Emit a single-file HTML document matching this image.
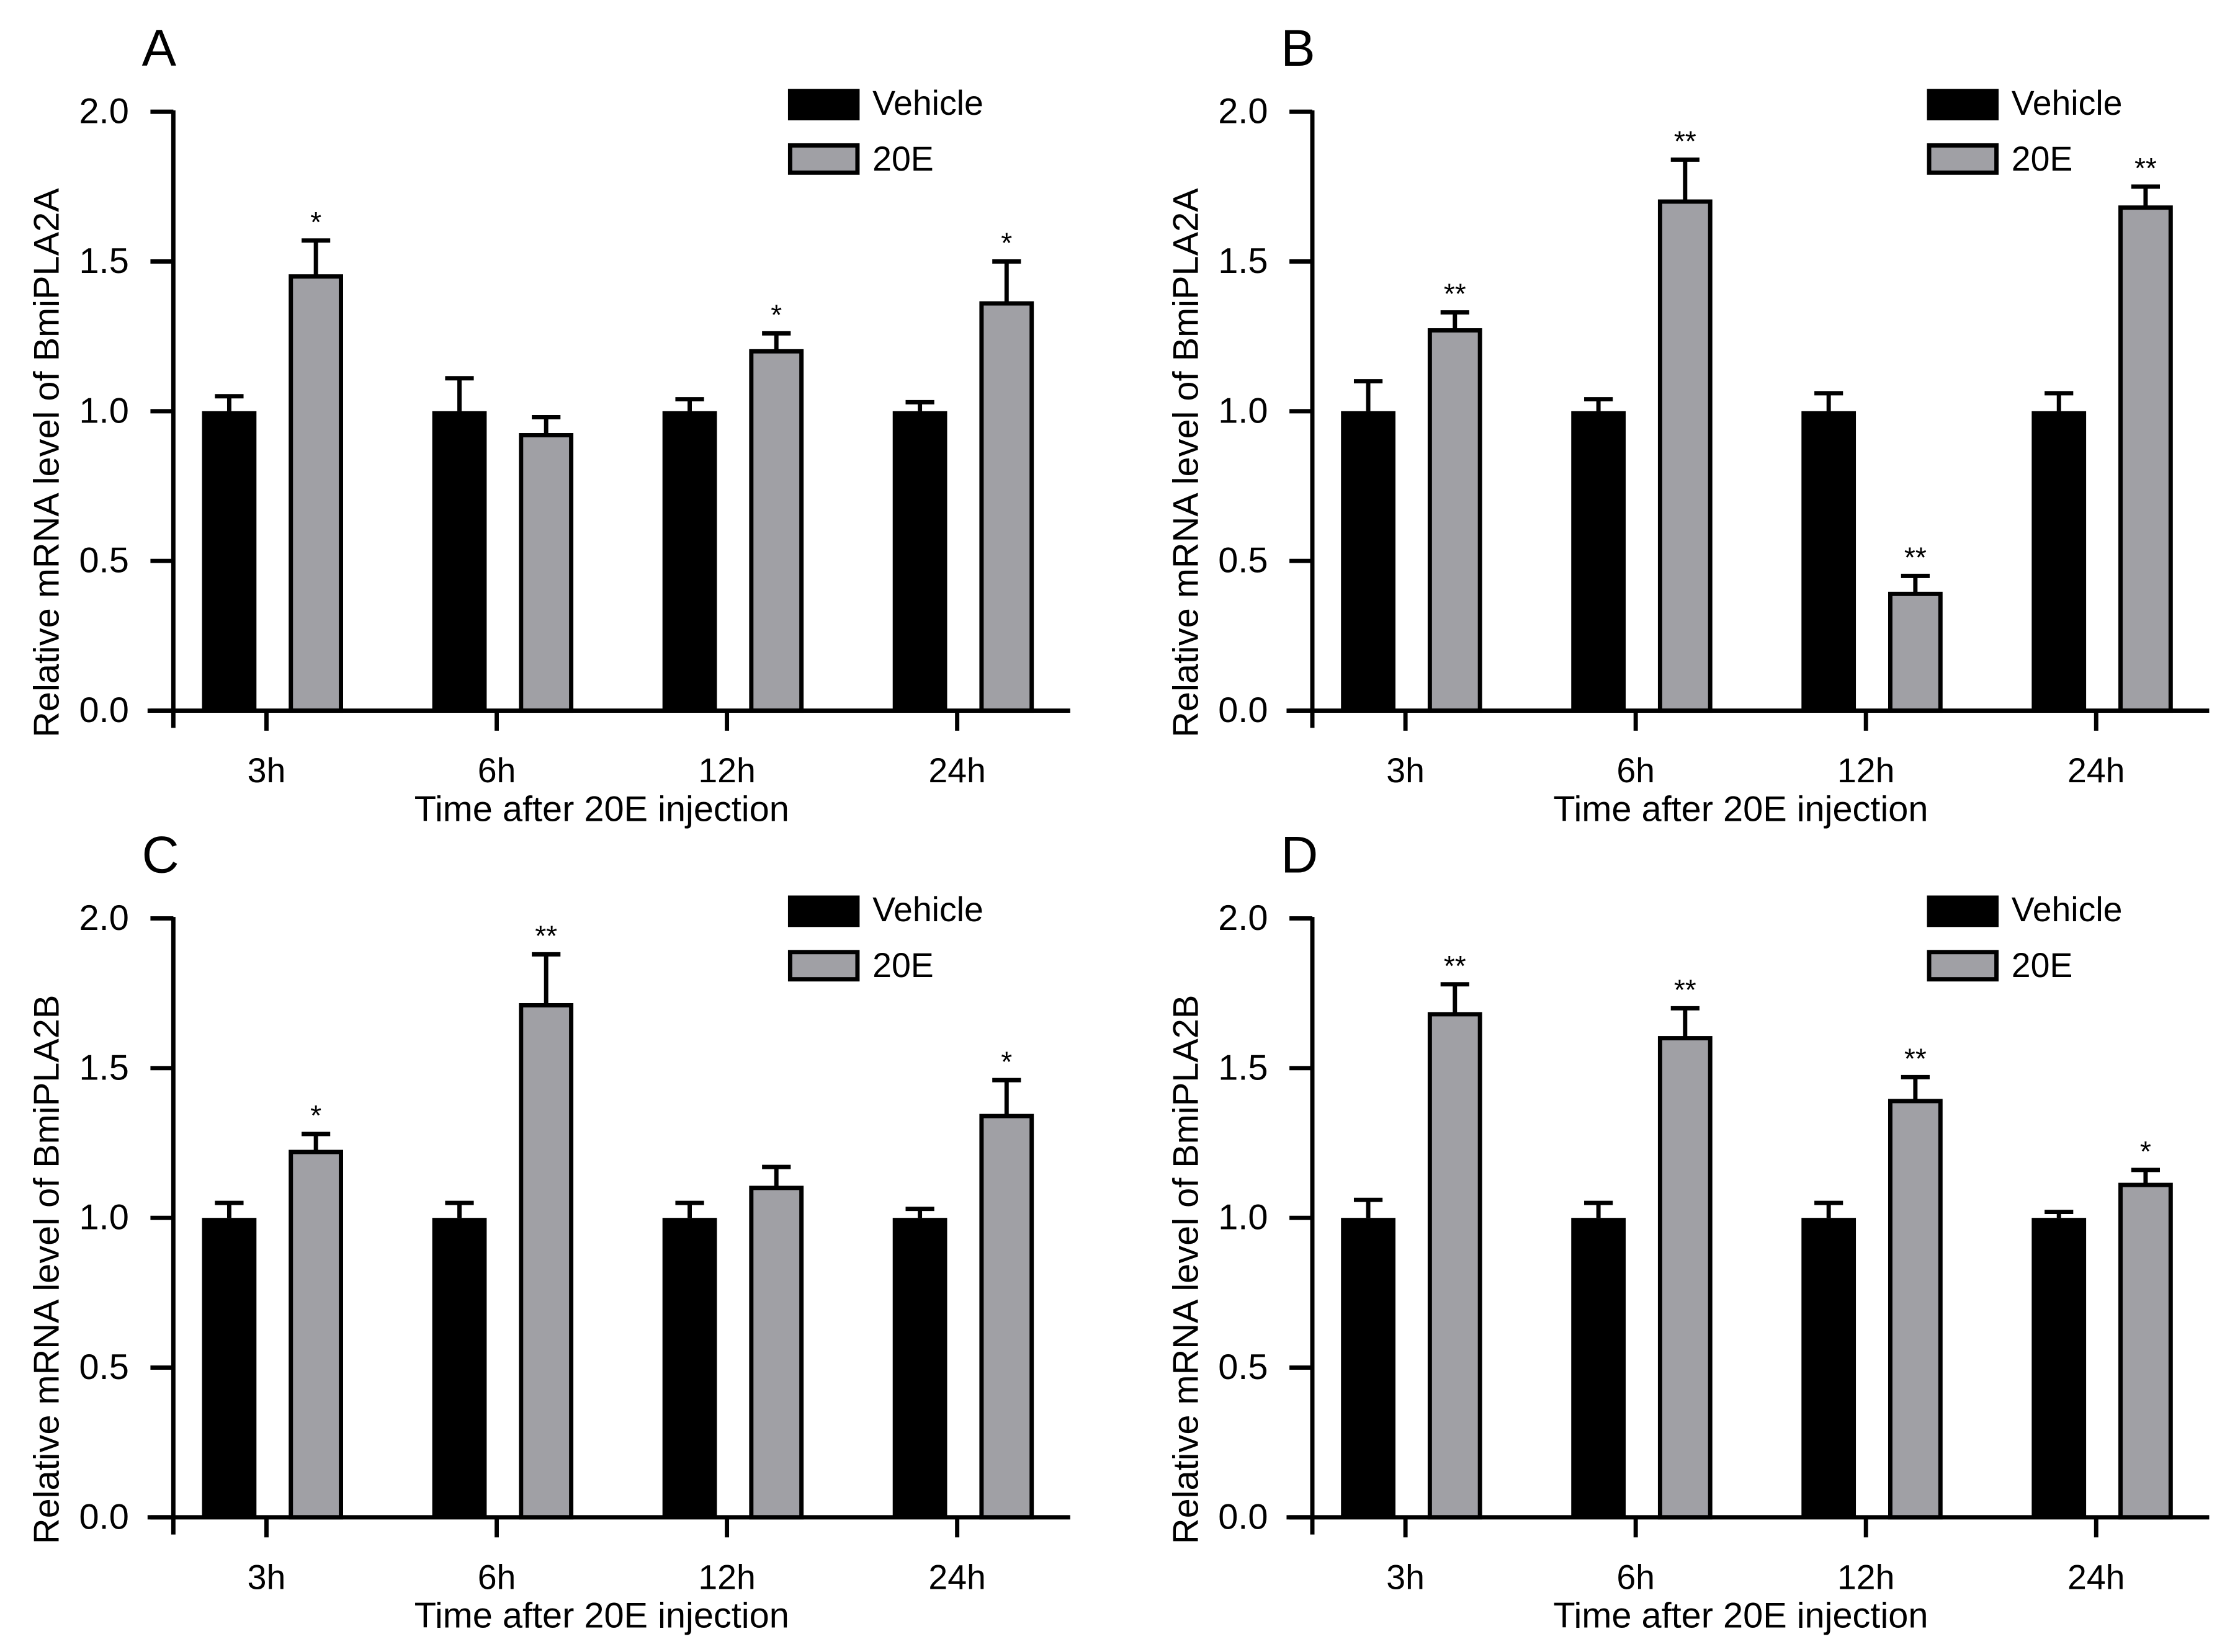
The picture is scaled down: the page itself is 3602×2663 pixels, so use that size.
<!DOCTYPE html>
<html><head><meta charset="utf-8"><style>
html,body{margin:0;padding:0;background:#fff}
svg{display:block}
text{font-family:"Liberation Sans",Arial,sans-serif;fill:#000}
</style></head><body>
<svg id="fig" width="3602" height="2663" viewBox="0 0 1560 1153" preserveAspectRatio="none" xmlns="http://www.w3.org/2000/svg"></svg>
<script>
const categories = ["3h","6h","12h","24h"];
const yTicks = [0,0.5,1,1.5,2];
const yTickLabels = ["0.0","0.5","1.0","1.5","2.0"];
const panelLetters = ["A","B","C","D"];
const panelGenes = ["BmiPLA2A","BmiPLA2A","BmiPLA2B","BmiPLA2B"];
const vehA = [1,1,1,1], vehErrA = [0.05,0.11,0.04,0.03];
const e20A = [1.45,0.92,1.2,1.36], e20ErrA = [0.12,0.06,0.06,0.14], sigA = ["*","","*","*"];
const vehB = [1,1,1,1], vehErrB = [0.1,0.04,0.06,0.06];
const e20B = [1.27,1.7,0.39,1.68], e20ErrB = [0.06,0.14,0.06,0.07], sigB = ["**","**","**","**"];
const vehC = [1,1,1,1], vehErrC = [0.05,0.05,0.05,0.03];
const e20C = [1.22,1.71,1.1,1.34], e20ErrC = [0.06,0.17,0.07,0.12], sigC = ["*","**","","*"];
const vehD = [1,1,1,1], vehErrD = [0.06,0.05,0.05,0.02];
const e20D = [1.68,1.6,1.39,1.11], e20ErrD = [0.1,0.1,0.08,0.05], sigD = ["**","**","**","*"];

const panels = [
 {veh:vehA,vehErr:vehErrA,e20:e20A,e20Err:e20ErrA,sig:sigA,ox:0,oy:0},
 {veh:vehB,vehErr:vehErrB,e20:e20B,e20Err:e20ErrB,sig:sigB,ox:795,oy:0},
 {veh:vehC,vehErr:vehErrC,e20:e20C,e20Err:e20ErrC,sig:sigC,ox:0,oy:563},
 {veh:vehD,vehErr:vehErrD,e20:e20D,e20Err:e20ErrD,sig:sigD,ox:795,oy:563}
];
const NS="http://www.w3.org/2000/svg";
const svg=document.getElementById('fig');
function mk(tag,attrs,parent,txt){const e=document.createElementNS(NS,tag);for(const k in attrs)e.setAttribute(k,attrs[k]);if(txt!==undefined)e.textContent=txt;(parent||svg).appendChild(e);return e;}
const GRAY="#a0a0a5";
const SW=3;
panels.forEach((p,pi)=>{
  const g=mk('g',{transform:`translate(${p.ox},${p.oy})`});
  
  
  const axX=121, y0=496, y2=78, xEnd=747;
  const ys=v=>y0-(v/2)*(y0-y2);
  const xc=i=>186+i*160.7;
  const t=mk('text',{x:99,y:46,'font-size':36},g,panelLetters[pi]);
  
  
  categories.forEach((c,i)=>{
    const vx=xc(i)-45, gx=xc(i)+17, w=38;
    const vb=mk('rect',{x:vx,y:ys(p.veh[i]),width:w,height:y0-ys(p.veh[i]),fill:'#000'},g);
    
    
    const ve=mk('path',{d:`M${vx+w/2},${ys(p.veh[i])}V${ys(p.veh[i]+p.vehErr[i])}M${vx+w/2-10},${ys(p.veh[i]+p.vehErr[i])}H${vx+w/2+10}`,stroke:'#000','stroke-width':SW,fill:'none'},g);
    
    
    const gb=mk('rect',{x:gx,y:ys(p.e20[i]),width:w-3,height:y0-ys(p.e20[i]),fill:GRAY,stroke:'#000','stroke-width':SW},g);
    
    
    const top=ys(p.e20[i]+p.e20Err[i]);
    const ge=mk('path',{d:`M${gx+(w-3)/2},${ys(p.e20[i])}V${top}M${gx+(w-3)/2-10},${top}H${gx+(w-3)/2+10}`,stroke:'#000','stroke-width':SW,fill:'none'},g);
    
    
    if(p.sig[i]){const s=mk('text',{x:gx+(w-3)/2,y:top-6,'font-size':20,'text-anchor':'middle'},g,p.sig[i]);
      
      }
    const tk=mk('line',{x1:xc(i),x2:xc(i),y1:y0,y2:y0+14,stroke:'#000','stroke-width':SW},g);
    
    
    const tl=mk('text',{x:xc(i),y:546,'font-size':24,'text-anchor':'middle'},g,c);
    
    
  });
  const ya=mk('line',{x1:axX,x2:axX,y1:y2-1,y2:y0+12,stroke:'#000','stroke-width':SW},g);
  
  
  const xa=mk('line',{x1:103,x2:xEnd,y1:y0,y2:y0,stroke:'#000','stroke-width':SW},g);
  
  
  yTicks.forEach((v,k)=>{
    const l=mk('line',{x1:axX-16,x2:axX,y1:ys(v),y2:ys(v),stroke:'#000','stroke-width':SW},g);
    
    
    const tt=mk('text',{x:axX-31,y:ys(v)+8,'font-size':25,'text-anchor':'end'},g,yTickLabels[k]);
    
    
  });
  const yt=mk('text',{x:0,y:0,'font-size':25,'text-anchor':'middle',transform:`translate(41,323) rotate(-90)`},g,'Relative mRNA level of '+panelGenes[pi]);
  
  
  const xt=mk('text',{x:420,y:573,'font-size':25,'text-anchor':'middle'},g,'Time after 20E injection');
  
  
  const lr1=mk('rect',{x:550,y:62,width:50,height:22,fill:'#000'},g);
  
  
  const lt1=mk('text',{x:609,y:80,'font-size':24},g,'Vehicle');
  
  
  const lr2=mk('rect',{x:551.5,y:101.5,width:47,height:19,fill:GRAY,stroke:'#000','stroke-width':SW},g);
  
  
  const lt2=mk('text',{x:609,y:119,'font-size':24},g,'20E');
  
  
});
</script>
</body></html>
